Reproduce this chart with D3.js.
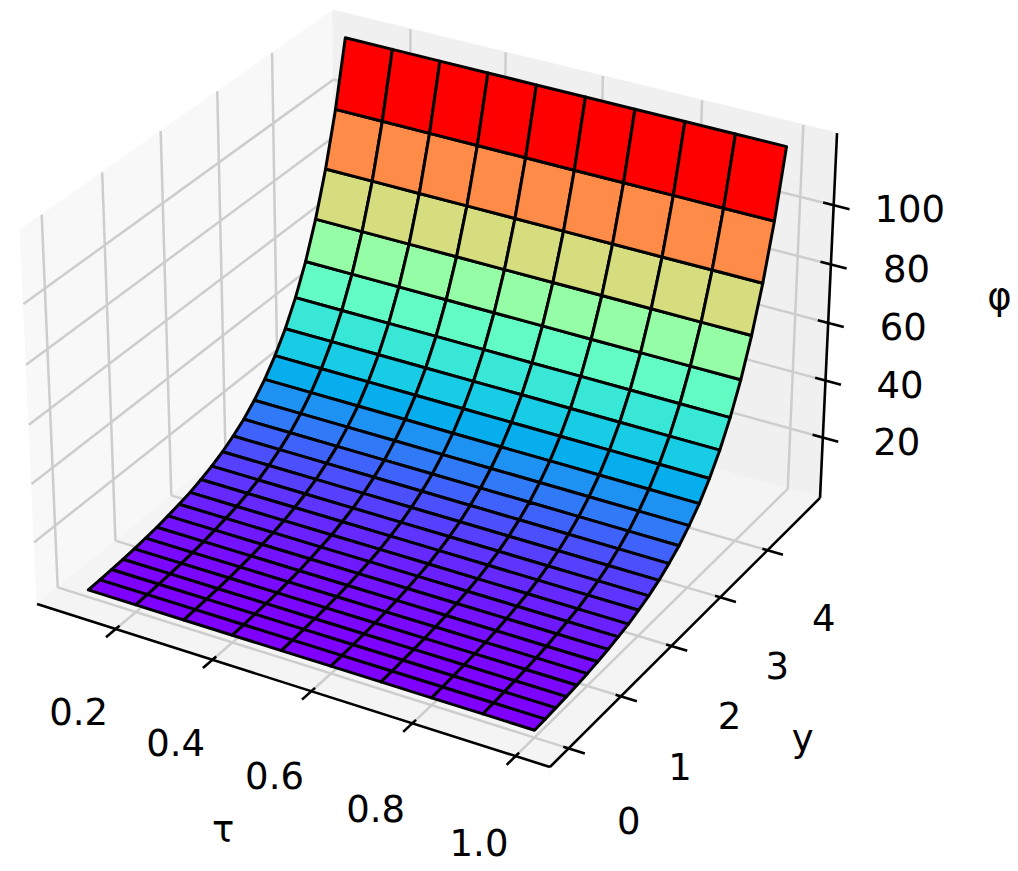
<!DOCTYPE html>
<html>
<head>
<meta charset="utf-8">
<script src="https://cdn.jsdelivr.net/npm/d3@7"></script>
<style>
  body { margin: 0; background: #ffffff; }
  text { font-family: "DejaVu Sans", sans-serif; fill: #000000; }
</style>
</head>
<body>
<svg id="svg" width="1018" height="871"></svg>
<script>
// grid of the surface: tau across, y along, phi height per y row
var tauValues = [0.1, 0.2, 0.3, 0.4, 0.5, 0.6, 0.7, 0.8, 0.9, 1.0];
var yValues = [0, 0.2, 0.4, 0.6, 0.8, 1.0, 1.2, 1.4, 1.6, 1.8, 2.0, 2.2, 2.4,
               2.6, 2.8, 3.0, 3.2, 3.4, 3.6, 3.8, 4.0, 4.2, 4.4, 4.6, 4.8];
var phiValues = [1.0, 1.2, 1.5, 1.8, 2.2, 2.7, 3.3, 4.1, 5.0, 6.0, 7.4, 9.0, 11.0,
                 13.5, 16.4, 20.1, 24.5, 30.0, 36.6, 44.7, 54.6, 66.7, 81.5, 99.5, 121.5];

var tauTicks = [0.2, 0.4, 0.6, 0.8, 1.0];
var yTicks = [0, 1, 2, 3, 4];
var phiTicks = [20, 40, 60, 80, 100];
var tauTickLabels = ["0.2", "0.4", "0.6", "0.8", "1.0"];
var yTickLabels = ["0", "1", "2", "3", "4"];
var phiTickLabels = ["20", "40", "60", "80", "100"];

// where the corners of the unit box sit on the page (camera calibration)
var boxCorners = [
  {p: [0, 0, 0], px: [37, 604]},
  {p: [1, 0, 0], px: [550, 767]},
  {p: [1, 1, 0], px: [820, 498]},
  {p: [1, 1, 1], px: [837, 133]},
  {p: [0, 0, 1], px: [20, 230]},
  {p: [0, 1, 1], px: [333, 10]}
];

function paneDomain(values, margin) {
  var ext = d3.extent(values), r = ext[1] - ext[0];
  var lo = ext[0] - r * margin, hi = ext[1] + r * margin;
  var pad = (hi - lo) / 48;
  return [lo - pad, hi + pad];
}

var xScale = d3.scaleLinear().domain(paneDomain(tauValues, 0.05)).range([0, 1]);
var yScale = d3.scaleLinear().domain(paneDomain(yValues, 0.05)).range([0, 1]);
var zScale = d3.scaleLinear().domain(paneDomain(phiValues, 0)).range([0, 1]);

function solve(M, b) {
  var n = b.length;
  for (var c = 0; c < n; c++) {
    var piv = c;
    for (var r = c + 1; r < n; r++) if (Math.abs(M[r][c]) > Math.abs(M[piv][c])) piv = r;
    var t = M[c]; M[c] = M[piv]; M[piv] = t;
    t = b[c]; b[c] = b[piv]; b[piv] = t;
    for (var r2 = c + 1; r2 < n; r2++) {
      var f = M[r2][c] / M[c][c];
      for (var k = c; k < n; k++) M[r2][k] -= f * M[c][k];
      b[r2] -= f * b[c];
    }
  }
  var x = new Array(n);
  for (var i = n - 1; i >= 0; i--) {
    var s = b[i];
    for (var j = i + 1; j < n; j++) s -= M[i][j] * x[j];
    x[i] = s / M[i][i];
  }
  return x;
}

// fit a 3x4 perspective camera to the box corners
function fitCamera(pts) {
  var rows = [], rhs = [];
  pts.forEach(function(c) {
    var X = c.p[0], Y = c.p[1], Z = c.p[2], u = c.px[0] / 1000, v = c.px[1] / 1000;
    rows.push([X, Y, Z, 1, 0, 0, 0, 0, -u * X, -u * Y, -u * Z]); rhs.push(u);
    rows.push([0, 0, 0, 0, X, Y, Z, 1, -v * X, -v * Y, -v * Z]); rhs.push(v);
  });
  var n = 11, M = [], b = [];
  for (var i = 0; i < n; i++) {
    M.push([]);
    var s = 0;
    for (var j = 0; j < n; j++) {
      var a = 0;
      for (var k = 0; k < rows.length; k++) a += rows[k][i] * rows[k][j];
      M[i].push(a);
    }
    for (var k2 = 0; k2 < rows.length; k2++) s += rows[k2][i] * rhs[k2];
    b.push(s);
  }
  return solve(M, b);
}

var cam = fitCamera(boxCorners);

// box coords (0..1) -> page
function proj(X, Y, Z) {
  var w = cam[8] * X + cam[9] * Y + cam[10] * Z + 1;
  return [1000 * (cam[0] * X + cam[1] * Y + cam[2] * Z + cam[3]) / w,
          1000 * (cam[4] * X + cam[5] * Y + cam[6] * Z + cam[7]) / w, w];
}

function rainbow(t) {
  var r = Math.min(1, Math.abs(2 * t - 0.5));
  var g = Math.max(0, Math.sin(Math.PI * t));
  var b = Math.max(0, Math.cos(Math.PI * t / 2));
  return d3.rgb(r * 255, g * 255, b * 255).toString();
}

var svg = d3.select("#svg");
var line = d3.line();

function seg(g, a, b, color, width) {
  var p = proj(a[0], a[1], a[2]), q = proj(b[0], b[1], b[2]);
  g.append("path")
    .attr("d", line([[p[0], p[1]], [q[0], q[1]]]))
    .attr("stroke", color)
    .attr("stroke-width", width)
    .attr("fill", "none");
}

// panes
var panes = [
  {pts: [[0, 0, 0], [0, 1, 0], [0, 1, 1], [0, 0, 1]], fill: "#f8f8f8"},
  {pts: [[0, 1, 0], [1, 1, 0], [1, 1, 1], [0, 1, 1]], fill: "#f0f0f0"},
  {pts: [[0, 0, 0], [1, 0, 0], [1, 1, 0], [0, 1, 0]], fill: "#f4f4f4"}
];
var paneG = svg.append("g");
panes.forEach(function(pn) {
  paneG.append("path")
    .attr("d", line(pn.pts.map(function(q) { var s = proj(q[0], q[1], q[2]); return [s[0], s[1]]; })) + "Z")
    .attr("fill", pn.fill)
    .attr("stroke", pn.fill)
    .attr("stroke-width", 1);
});

// grid lines on the panes
var gridG = svg.append("g");
var gridColor = "#cdcdcd", gridW = 2.5;
yTicks.forEach(function(v) {
  var Y = yScale(v);
  seg(gridG, [0, Y, 0], [0, Y, 1], gridColor, gridW);
  seg(gridG, [0, Y, 0], [1, Y, 0], gridColor, gridW);
});
phiTicks.forEach(function(v) {
  var Z = zScale(v);
  seg(gridG, [0, 0, Z], [0, 1, Z], gridColor, gridW);
  seg(gridG, [0, 1, Z], [1, 1, Z], gridColor, gridW);
});
tauTicks.forEach(function(v) {
  var X = xScale(v);
  seg(gridG, [X, 1, 0], [X, 1, 1], gridColor, gridW);
  seg(gridG, [X, 0, 0], [X, 1, 0], gridColor, gridW);
});

// axis lines and ticks
var axisG = svg.append("g");
var axisW = 2.6;
seg(axisG, [0, 0, 0], [1, 0, 0], "#000", axisW);
seg(axisG, [1, 0, 0], [1, 1, 0], "#000", axisW);
seg(axisG, [1, 1, 0], [1, 1, 1], "#000", axisW);

tauTicks.forEach(function(v) {
  var X = xScale(v);
  seg(axisG, [X, 0.012, 0], [X, -0.03, 0], "#000", axisW);
});
yTicks.forEach(function(v) {
  var Y = yScale(v);
  seg(axisG, [0.99, Y, 0], [1.03, Y, 0], "#000", axisW);
});
phiTicks.forEach(function(v) {
  var Z = zScale(v);
  seg(axisG, [0.98, 1, Z], [1.03, 1, Z], "#000", axisW);
});

function label(g, pos, txt) {
  var s = proj(pos[0], pos[1], pos[2]);
  g.append("text")
    .attr("x", s[0])
    .attr("y", s[1])
    .attr("text-anchor", "middle")
    .attr("dominant-baseline", "central")
    .attr("font-size", 37)
    .text(txt);
}

tauTicks.forEach(function(v, i) {
  label(axisG, [xScale(v), -0.12, -0.14], tauTickLabels[i]);
});
yTicks.forEach(function(v, i) {
  label(axisG, [1.113, yScale(v), -0.145], yTickLabels[i]);
});
phiTicks.forEach(function(v, i) {
  label(axisG, [1.12, 1.05, zScale(v)], phiTickLabels[i]);
});
label(axisG, [0.535, -0.26, -0.18], "τ");
label(axisG, [1.217, 0.5, -0.216], "y");
label(axisG, [1.236, 1.194, 0.527], "φ");

// surface faces
var faces = [];
for (var i = 0; i < tauValues.length - 1; i++) {
  for (var j = 0; j < yValues.length - 1; j++) {
    var q = [
      [tauValues[i], yValues[j], phiValues[j]],
      [tauValues[i + 1], yValues[j], phiValues[j]],
      [tauValues[i + 1], yValues[j + 1], phiValues[j + 1]],
      [tauValues[i], yValues[j + 1], phiValues[j + 1]]
    ];
    var pts = q.map(function(d) { return proj(xScale(d[0]), yScale(d[1]), zScale(d[2])); });
    faces.push({
      pts: pts,
      avg: d3.mean(q, function(d) { return d[2]; }),
      depth: d3.mean(pts, function(d) { return d[2]; })
    });
  }
}
var colorNorm = d3.scaleLinear().domain(d3.extent(faces, function(f) { return f.avg; })).range([0, 1]);
faces.sort(function(a, b) { return b.depth - a.depth; });

svg.append("g").selectAll("path")
  .data(faces)
  .enter().append("path")
  .attr("d", function(f) { return line(f.pts.map(function(p) { return [p[0], p[1]]; })) + "Z"; })
  .attr("fill", function(f) { return rainbow(colorNorm(f.avg)); })
  .attr("stroke", "#000")
  .attr("stroke-width", 3)
  .attr("stroke-linejoin", "round");
</script>
</body>
</html>
